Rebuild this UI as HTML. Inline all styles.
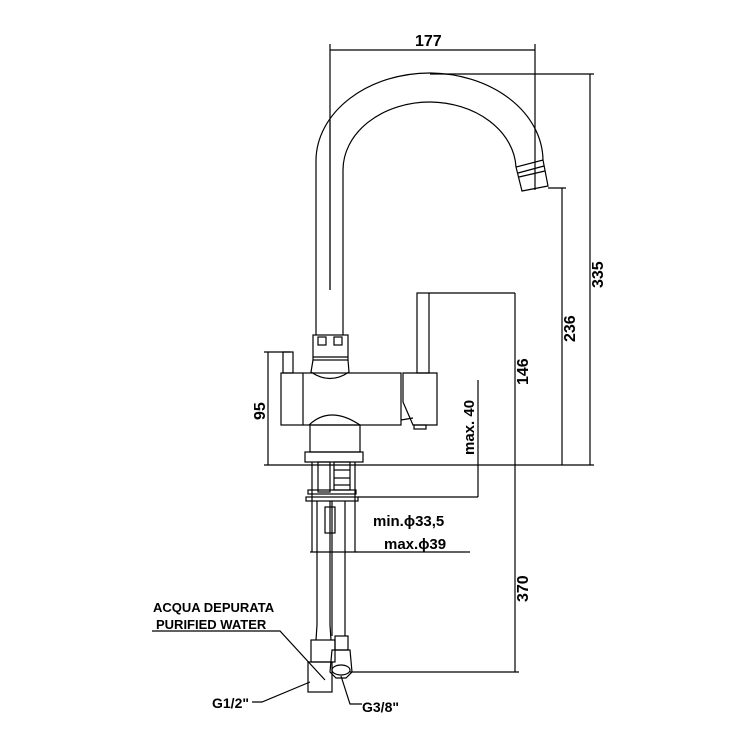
<!DOCTYPE html>
<html><head><meta charset="utf-8"><style>
html,body{margin:0;padding:0;background:#fff}
svg{display:block}
text{font-family:"Liberation Sans","DejaVu Sans",sans-serif;font-weight:bold;fill:#000}
</style></head><body>
<svg width="750" height="750" viewBox="0 0 750 750" xmlns="http://www.w3.org/2000/svg">
<g fill="none" stroke="#000" stroke-width="1.2">
<path d="M316,335 L316,160 A114,88 0 0 1 430,73 A114,88 0 0 1 543,160"/>
<path d="M343,335 L343,170 A87,68 0 0 1 430,102 A87,68 0 0 1 516,167"/>
<path d="M516,167 L522,191 L548,186 L543,160 Z"/>
<line x1="518" y1="173" x2="544" y2="166"/>
<line x1="519" y1="177" x2="545" y2="171"/>
<line x1="330" y1="120" x2="330" y2="290" stroke="#666"/>
<rect x="313" y="335" width="35" height="25"/>
<line x1="313" y1="357" x2="348" y2="357"/>
<rect x="318" y="337" width="8" height="8"/><rect x="334" y="337" width="8" height="8"/>
<path d="M313,360 L311,372 Q330,385 349,372 L348,360"/>
<rect x="281" y="373" width="120" height="52"/>
<line x1="303" y1="373" x2="303" y2="425"/>
<rect x="283" y="352" width="10" height="21"/>
<path d="M309,425 Q330,405 360,425"/>
<rect x="417" y="293" width="12" height="80"/>
<line x1="429" y1="293" x2="515" y2="293"/>
<path d="M403,373 L437,373 L437,425 L413,425 L403,402 Z"/>
<line x1="401" y1="420" x2="413" y2="418"/>
<rect x="414" y="425" width="12" height="4"/>
<rect x="310" y="425" width="50" height="27"/>
<rect x="305" y="452" width="58" height="10"/>
<rect x="318" y="462" width="12" height="30"/>
<rect x="334" y="462" width="16" height="28"/>
<line x1="334" y1="470" x2="350" y2="470"/><line x1="334" y1="478" x2="350" y2="478"/><line x1="334" y1="485" x2="350" y2="485"/>
<rect x="308" y="490" width="48" height="4"/>
<rect x="306" y="497" width="52" height="4"/>
<line x1="312" y1="462" x2="312" y2="552"/><line x1="355" y1="462" x2="355" y2="552"/>
<line x1="310" y1="552" x2="357" y2="552"/>
<rect x="325" y="507" width="10" height="26"/>
<line x1="317" y1="501" x2="317" y2="625"/><line x1="330" y1="501" x2="330" y2="625"/>
<line x1="332" y1="501" x2="332" y2="636"/><line x1="345" y1="501" x2="345" y2="636"/>
<path d="M317,625 L316,640 M330,625 L331,640"/>
<rect x="311" y="640" width="24" height="22"/>
<rect x="308" y="662" width="24" height="30"/>
<rect x="335" y="636" width="13" height="14"/>
<path d="M332,650 L350,650 L352,672 L346,678 L336,678 L330,672 Z"/>
<ellipse cx="341" cy="670" rx="9" ry="5"/>
<line x1="330" y1="50" x2="535" y2="50"/>
<line x1="330" y1="44" x2="330" y2="290"/>
<line x1="535" y1="44" x2="535" y2="190"/>
<line x1="430" y1="74" x2="594" y2="74"/>
<line x1="590" y1="74" x2="590" y2="465"/>
<line x1="548" y1="188" x2="566" y2="188"/>
<line x1="562" y1="188" x2="562" y2="465"/>
<line x1="515" y1="293" x2="515" y2="672"/>
<line x1="268" y1="352" x2="268" y2="465"/>
<line x1="264" y1="352" x2="290" y2="352"/>
<line x1="264" y1="465" x2="594" y2="465"/>
<line x1="478" y1="380" x2="478" y2="497"/>
<line x1="358" y1="497" x2="478" y2="497"/>
<line x1="356" y1="552" x2="470" y2="552"/>
<line x1="350" y1="672" x2="519" y2="672"/>
<polyline points="152,631 280,631 325,680"/>
<polyline points="252,702 262,702 310,682"/>
<polyline points="362,704 350,704 341,676"/>
</g>
<g font-size="16">
<text x="415" y="46">177</text>
<text transform="translate(603,288) rotate(-90)">335</text>
<text transform="translate(575,342) rotate(-90)">236</text>
<text transform="translate(528,385) rotate(-90)">146</text>
<text transform="translate(265,420) rotate(-90)">95</text>
<text transform="translate(474,455) rotate(-90)" font-size="15">max. 40</text>
<text x="373" y="526" font-size="15">min.ϕ33,5</text>
<text x="384" y="549" font-size="15">max.ϕ39</text>
<text transform="translate(528,602) rotate(-90)">370</text>
<text x="153" y="612" font-size="13">ACQUA DEPURATA</text>
<text x="156" y="629" font-size="13">PURIFIED WATER</text>
<text x="212" y="708" font-size="14">G1/2"</text>
<text x="362" y="712" font-size="14">G3/8"</text>
</g>
</svg>
</body></html>
